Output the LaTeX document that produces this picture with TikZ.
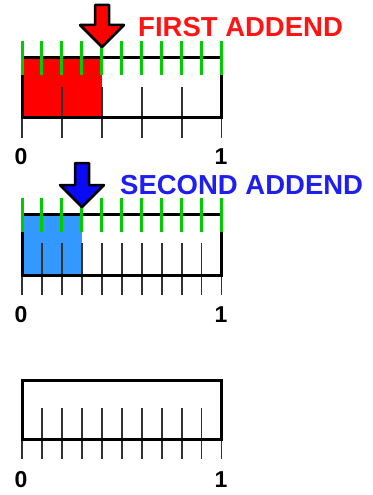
\documentclass[tikz,border=0pt]{standalone}
\usepackage{fontspec}
\setmainfont{Liberation Sans}
\definecolor{tickgreen}{RGB}{0,204,0}
\definecolor{fillblue}{RGB}{51,153,255}
\definecolor{arrowblue}{RGB}{10,10,245}
\definecolor{textblue}{RGB}{30,30,240}
\definecolor{textred}{RGB}{255,20,20}
\definecolor{tickgray}{RGB}{50,50,50}
\begin{document}
\begin{tikzpicture}[x=1pt,y=-1pt,
  boxline/.style={line width=3pt,black},
  smalltick/.style={line width=1.8pt,tickgray},
  greentick/.style={line width=3pt,tickgreen},
  downarrow/.style={line width=2.5pt,line join=round,draw=black},
  addtext/.style={font=\fontsize{27.5}{30}\selectfont\bfseries,inner sep=0pt,anchor=base west},
  numlabel/.style={font=\fontsize{23}{25}\selectfont\bfseries,inner sep=0pt}]
\useasboundingbox (0,0) rectangle (372,495);
\def\xa{22}\def\xb{221.5}
% ---------- row 1 ----------
\fill[red] (\xa,58) rectangle (102,117);
\foreach \k in {1,...,4} \draw[smalltick] ({\xa+39.9*\k},87) -- ({\xa+39.9*\k},117);
\foreach \k in {0,...,5} \draw[smalltick] ({\xa+39.9*\k},117) -- ({\xa+39.9*\k},138);
\draw[boxline] (\xa,58) rectangle (\xb,117);
\foreach \k in {0,...,10} \draw[greentick] ({\xa+19.95*\k},41) -- ({\xa+19.95*\k},75);
\filldraw[downarrow,fill=red] (95,5) -- (109,5) -- (109,25) -- (124,25) -- (102,47) -- (80,25) -- (95,25) -- cycle;
\node[addtext,textred] (first) at (138,37) {FIRST ADDEND};
\node[numlabel] (z1) at (21,157) {0};
\node[numlabel] (o1) at (221,157) {1};
% ---------- row 2 ----------
\fill[fillblue] (\xa,214) rectangle (82,275);
\foreach \k in {1,...,9} \draw[smalltick] ({\xa+19.95*\k},243) -- ({\xa+19.95*\k},275);
\foreach \k in {0,...,10} \draw[smalltick] ({\xa+19.95*\k},275) -- ({\xa+19.95*\k},295);
\draw[boxline] (\xa,214) rectangle (\xb,275);
\foreach \k in {0,...,10} \draw[greentick] ({\xa+19.95*\k},198) -- ({\xa+19.95*\k},232);
\filldraw[downarrow,fill=arrowblue] (75,163) -- (89,163) -- (89,185) -- (104,185) -- (82,207) -- (60,185) -- (75,185) -- cycle;
\node[addtext,textblue] (second) at (120,194) {SECOND ADDEND};
\node[numlabel] (z2) at (21,315) {0};
\node[numlabel] (o2) at (221,315) {1};
% ---------- row 3 ----------
\foreach \k in {1,...,9} \draw[smalltick] ({\xa+19.95*\k},408) -- ({\xa+19.95*\k},439);
\foreach \k in {0,...,10} \draw[smalltick] ({\xa+19.95*\k},439) -- ({\xa+19.95*\k},459);
\draw[boxline] (\xa,380) rectangle (\xb,439);
\node[numlabel] (z3) at (21,480) {0};
\node[numlabel] (o3) at (221,480) {1};
\end{tikzpicture}
\end{document}
